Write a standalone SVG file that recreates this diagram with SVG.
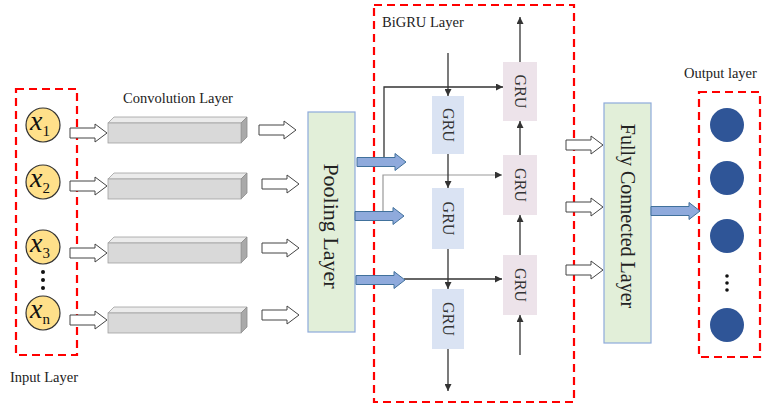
<svg xmlns="http://www.w3.org/2000/svg" width="769" height="408" viewBox="0 0 769 408">
<defs>
<style>
.dash{fill:none;stroke:#ff0000;stroke-width:2.2;stroke-dasharray:8,5}
.lbl{font-family:"Liberation Serif","Times New Roman",serif;font-size:14.5px;fill:#222}
.inc{fill:#ffe08a;stroke:#333;stroke-width:1.2}
.xl{font-family:"Liberation Serif","DejaVu Serif",serif;font-style:italic;font-size:28px;fill:#111}
.sub{font-family:"Liberation Serif","DejaVu Serif",serif;font-style:normal;font-size:15px}
.face{fill:#d9d9d9;stroke:#a0a0a0;stroke-width:0.8}
.top{fill:#ebebeb;stroke:#a0a0a0;stroke-width:0.8}
.side{fill:#a9a9a9;stroke:#8c8c8c;stroke-width:0.8}
.green{fill:#e2efd9;stroke:#8eaadb;stroke-width:1.2}
.big{font-family:"Liberation Serif","Times New Roman",serif;fill:#222}
.gf{fill:#dae3f3}
.gb{fill:#ede3ea}
.gt{font-family:"Liberation Serif","Times New Roman",serif;font-size:16px;fill:#333}
.ln{fill:none;stroke:#333;stroke-width:1.3}
.ln2{fill:none;stroke:#999;stroke-width:1.2}
.out{fill:#2f5597}
.dot{fill:#111}
</style>
<marker id="ah" viewBox="0 0 10 10" refX="10" refY="5" markerWidth="7" markerHeight="7" markerUnits="userSpaceOnUse" orient="auto"><path d="M0,0 L10,5 L0,10 Z" fill="#333"/></marker>
<path id="hol" d="M0,-5 H25 V-9 L37,0 L25,9 V5 H0 Z" fill="#fff" stroke="#444" stroke-width="1"/>
<path id="blu" d="M0,-4.5 H38 V-8.5 L49,0 L38,8.5 V4.5 H0 Z" fill="#8faadc" stroke="#41719c" stroke-width="1"/>
<g id="bar"><path class="top" d="M0,6 L6,0 H139 L133,6 Z"/><path class="side" d="M133,6 L139,0 V20 L133,26 Z"/><rect class="face" x="0" y="6" width="133" height="20"/></g>
</defs>

<g id="input-layer">
<rect class="dash" x="16" y="89" width="61" height="266"/>
<text class="lbl" x="10" y="382">Input Layer</text>
</g>
<g id="x1"><circle class="inc" cx="43" cy="125" r="17"/><text class="xl" x="30" y="130">x<tspan class="sub" dy="6">1</tspan></text></g>
<g id="x2"><circle class="inc" cx="43" cy="182" r="17"/><text class="xl" x="30" y="187">x<tspan class="sub" dy="6">2</tspan></text></g>
<g id="x3"><circle class="inc" cx="43" cy="247" r="17"/><text class="xl" x="30" y="252">x<tspan class="sub" dy="6">3</tspan></text></g>
<g id="xdots"><circle class="dot" cx="43" cy="272" r="2"/><circle class="dot" cx="43" cy="280" r="2"/><circle class="dot" cx="43" cy="288" r="2"/></g>
<g id="xn"><circle class="inc" cx="43" cy="313" r="17"/><text class="xl" x="30" y="318">x<tspan class="sub" dy="6">n</tspan></text></g>

<g id="conv-layer">
<text class="lbl" x="123" y="103">Convolution Layer</text>
<use href="#bar" x="108" y="117"/>
<use href="#bar" x="108" y="173"/>
<use href="#bar" x="108" y="237"/>
<use href="#bar" x="108" y="307"/>
</g>

<g id="pooling">
<rect class="green" x="308" y="112" width="47" height="220"/>
<text class="big" style="font-size:22px" text-anchor="middle" dominant-baseline="central" transform="translate(331.5,226) rotate(90)">Pooling Layer</text>
</g>

<g id="bigru-layer">
<rect class="dash" x="374" y="5" width="200" height="397"/>
<text class="lbl" x="382" y="27">BiGRU Layer</text>
</g>
<g id="gru-f1"><rect class="gf" x="432" y="96" width="32" height="58"/><text class="gt" text-anchor="middle" dominant-baseline="central" transform="translate(448,125) rotate(90)">GRU</text></g>
<g id="gru-f2"><rect class="gf" x="432" y="188" width="32" height="61"/><text class="gt" text-anchor="middle" dominant-baseline="central" transform="translate(448,218.5) rotate(90)">GRU</text></g>
<g id="gru-f3"><rect class="gf" x="432" y="289" width="32" height="60"/><text class="gt" text-anchor="middle" dominant-baseline="central" transform="translate(448,319) rotate(90)">GRU</text></g>
<g id="gru-b1"><rect class="gb" x="503" y="62" width="34" height="59"/><text class="gt" text-anchor="middle" dominant-baseline="central" transform="translate(520,91.5) rotate(90)">GRU</text></g>
<g id="gru-b2"><rect class="gb" x="503" y="155" width="34" height="60"/><text class="gt" text-anchor="middle" dominant-baseline="central" transform="translate(520,185) rotate(90)">GRU</text></g>
<g id="gru-b3"><rect class="gb" x="503" y="255" width="34" height="60"/><text class="gt" text-anchor="middle" dominant-baseline="central" transform="translate(520,285) rotate(90)">GRU</text></g>

<g id="fc">
<rect class="green" x="604" y="103" width="47" height="240"/>
<text class="big" style="font-size:20px" text-anchor="middle" dominant-baseline="central" transform="translate(627.5,216) rotate(90)">Fully Connected Layer</text>
</g>

<g id="output-layer">
<rect class="dash" x="699" y="92" width="61" height="265"/>
<text class="lbl" x="684" y="78">Output layer</text>
<circle class="out" cx="727" cy="125" r="17"/>
<circle class="out" cx="727" cy="178" r="17"/>
<circle class="out" cx="727" cy="236" r="17"/>
<circle class="dot" cx="727" cy="276" r="1.8"/><circle class="dot" cx="727" cy="283" r="1.8"/><circle class="dot" cx="727" cy="290" r="1.8"/>
<circle class="out" cx="727" cy="325" r="17"/>
</g>

<g id="connectors">
<use href="#hol" x="70" y="133"/>
<use href="#hol" x="70" y="186"/>
<use href="#hol" x="70" y="253"/>
<use href="#hol" x="70" y="320"/>
<use href="#hol" x="259" y="130"/>
<use href="#hol" x="262" y="184"/>
<use href="#hol" x="262" y="248"/>
<use href="#hol" x="262" y="315"/>
<path class="ln" d="M384,158 V87 H503" marker-end="url(#ah)"/>
<path class="ln2" d="M383,212 V175 H502" marker-end="url(#ah)"/>
<path class="ln" d="M404,279 H502" marker-end="url(#ah)"/>
<use href="#blu" x="357" y="162"/>
<use href="#blu" x="355" y="216"/>
<use href="#blu" x="356" y="280"/>
<path class="ln" d="M448,53 V96" marker-end="url(#ah)"/>
<path class="ln" d="M448,154 V188" marker-end="url(#ah)"/>
<path class="ln" d="M448,249 V289" marker-end="url(#ah)"/>
<path class="ln" d="M448,349 V391" marker-end="url(#ah)"/>
<path class="ln" d="M520,355 V315" marker-end="url(#ah)"/>
<path class="ln" d="M520,255 V215" marker-end="url(#ah)"/>
<path class="ln" d="M520,155 V121" marker-end="url(#ah)"/>
<path class="ln" d="M520,62 V17" marker-end="url(#ah)"/>
<use href="#hol" x="566" y="145"/>
<use href="#hol" x="566" y="207"/>
<use href="#hol" x="566" y="270"/>
<use href="#blu" x="651" y="211"/>
</g>
</svg>
